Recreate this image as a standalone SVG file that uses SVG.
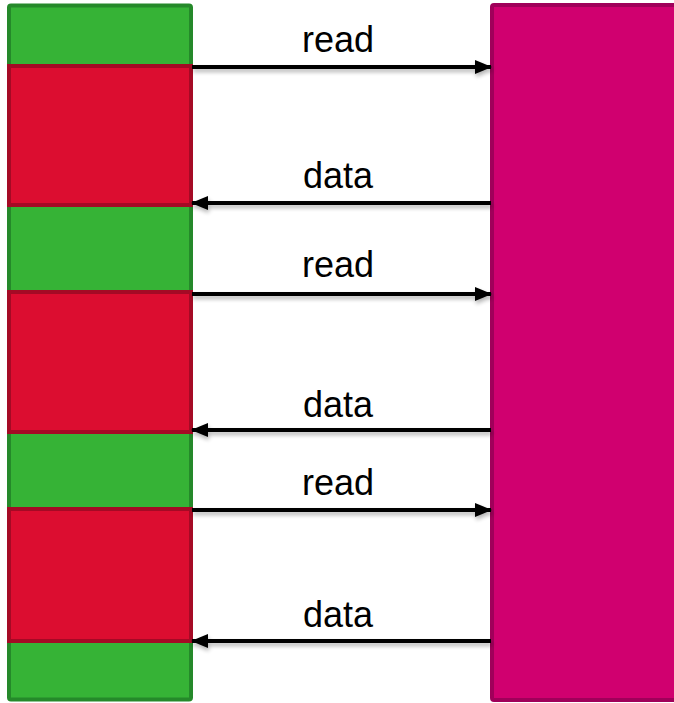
<svg xmlns="http://www.w3.org/2000/svg" width="674" height="703" viewBox="0 0 674 703">
<style>
.green{fill:#36B336;stroke:#25892A;stroke-width:4}
.red{fill:#DC0D30;stroke:#A50A25;stroke-width:4}
.mag{fill:#D0006F;stroke:#A0005A;stroke-width:4}
.lbl{font-family:"Liberation Sans",Arial,sans-serif;font-size:36px;fill:#000;text-anchor:middle}
.conn line{stroke:#000;stroke-width:4;marker-end:url(#ah)}
</style>
<defs>
<marker id="ah" markerWidth="17" markerHeight="14" refX="16" refY="7" orient="auto" markerUnits="userSpaceOnUse">
<path d="M0,0 L17,7 L0,14 Z" fill="#000"/>
</marker>
<filter id="sh" x="-5%" y="-100%" width="110%" height="400%">
<feGaussianBlur in="SourceAlpha" stdDeviation="2"/>
<feOffset dx="1" dy="3" result="b"/>
<feComponentTransfer><feFuncA type="linear" slope="0.3"/></feComponentTransfer>
<feMerge><feMergeNode/><feMergeNode in="SourceGraphic"/></feMerge>
</filter>
</defs>
<g id="memory">
<rect class="green" x="9" y="5.5" width="182" height="694" rx="2"/>
</g>
<g id="wait1"><rect class="red" x="9" y="66" width="182" height="139"/></g>
<g id="wait2"><rect class="red" x="9" y="292" width="182" height="140"/></g>
<g id="wait3"><rect class="red" x="9" y="509" width="182" height="132"/></g>
<g id="server">
<rect class="mag" x="492" y="5" width="190" height="695" rx="2"/>
</g>
<g class="conn" filter="url(#sh)">
<line x1="192" y1="67" x2="491" y2="67"/>
<line x1="491" y1="203" x2="192" y2="203"/>
<line x1="192" y1="294" x2="491" y2="294"/>
<line x1="491" y1="430" x2="192" y2="430"/>
<line x1="192" y1="510" x2="491" y2="510"/>
<line x1="491" y1="641" x2="192" y2="641"/>
</g>
<g id="labels">
<text class="lbl" x="338" y="52">read</text>
<text class="lbl" x="338" y="188">data</text>
<text class="lbl" x="338" y="277">read</text>
<text class="lbl" x="338" y="417">data</text>
<text class="lbl" x="338" y="495">read</text>
<text class="lbl" x="338" y="627">data</text>
</g>
</svg>
